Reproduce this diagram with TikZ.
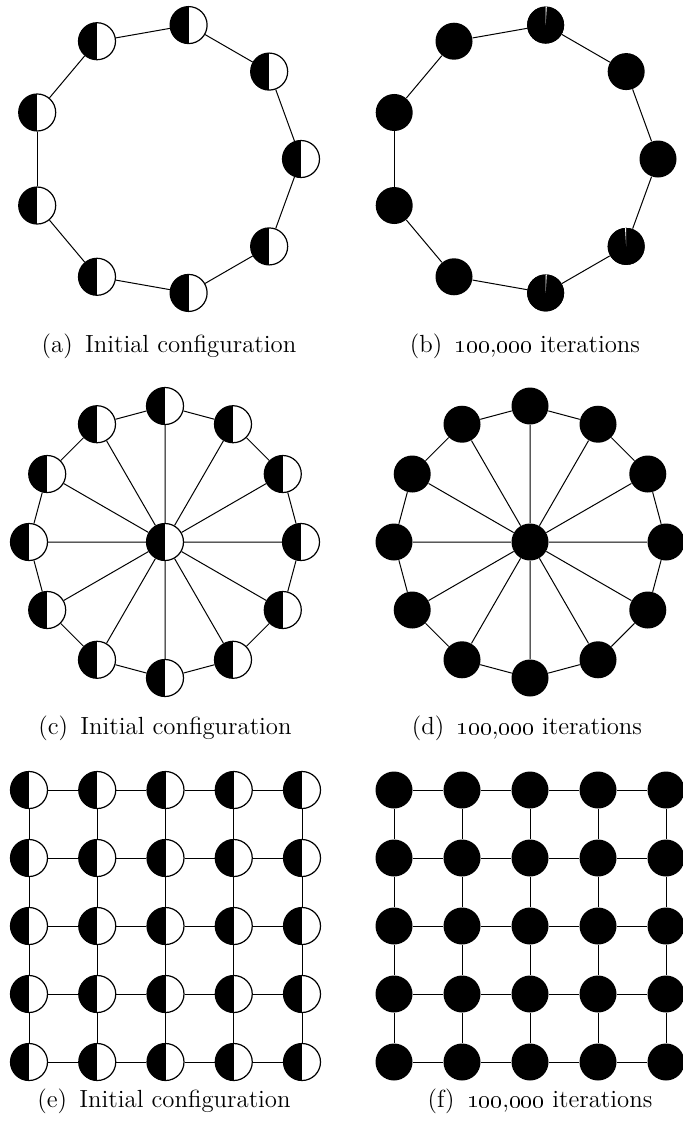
\documentclass[tikz,border=0pt]{standalone}
\begin{document}
\begin{tikzpicture}[x=0.5pt,y=-0.5pt,
        halfnode/.style={shape=circle,draw,line width=0.6pt,minimum size=18.5pt,inner sep=0pt,
            path picture={\fill (path picture bounding box.north west) rectangle (path picture bounding box.south);}},
        fullnode/.style={shape=circle,fill,minimum size=18.5pt,inner sep=0pt},
        sliver/.style={path picture={\fill[white] (path picture bounding box.center) -- (path picture bounding box.north) -- ++(#1,0) -- cycle;}},
        link/.style={line width=0.5pt},
        capt/.style={anchor=base,font=\fontsize{12.4}{15}\selectfont}
    ]
    \useasboundingbox (0,0) rectangle (683,1130);
    % (a) and (b): ring of nine
    \foreach \i in {0,...,8} {
        \node [halfnode] (a\i) at ({165+136*cos(40*\i)},{159-136*sin(40*\i)}) {};
        \node [fullnode] (b\i) at ({522+136*cos(40*\i)},{159-136*sin(40*\i)}) {};
    }
    \node [fullnode,sliver=1.2] at (b2) {};
    \node [fullnode,sliver=1.2] at (b7) {};
    \node [fullnode,sliver=-1.2] at (b8) {};
    \foreach \i in {0,...,8} {
        \pgfmathtruncatemacro\j{mod(\i+1,9)}
        \draw [link] (a\i) -- (a\j);
        \draw [link] (b\i) -- (b\j);
    }
    \node [capt] (capa) at (169,352) {(a)\enspace Initial configuration};
    \node [capt] (capb) at (525,352) {(b)\enspace \oldstylenums{100},\oldstylenums{000} iterations};
    % (c) and (d): wheel of twelve
    \node [halfnode] (c0) at (165,542) {};
    \node [fullnode] (d0) at (530,542) {};
    \foreach \i in {1,...,12} {
        \node [halfnode] (c\i) at ({165+136*cos(30*\i)},{542-136*sin(30*\i)}) {};
        \node [fullnode] (d\i) at ({530+136*cos(30*\i)},{542-136*sin(30*\i)}) {};
    }
    \foreach \i in {1,...,12} {
        \pgfmathtruncatemacro\j{mod(\i,12)+1}
        \draw [link] (c\i) -- (c\j) (c0) -- (c\i);
        \draw [link] (d\i) -- (d\j) (d0) -- (d\i);
    }
    \node [capt] (capc) at (165,734) {(c)\enspace Initial configuration};
    \node [capt] (capd) at (527,734) {(d)\enspace \oldstylenums{100},\oldstylenums{000} iterations};
    % (e) and (f): 5x5 grid
    \foreach \r in {0,...,4}
        \foreach \c in {0,...,4} {
            \node [halfnode] (e-\r-\c) at ({29+68.25*\c},{790+68*\r}) {};
            \node [fullnode] (f-\r-\c) at ({394+68*\c},{790+68*\r}) {};
        }
    \foreach \r in {0,...,4}
        \foreach \c [count=\n] in {0,...,3} {
            \draw [link] (e-\r-\c) -- (e-\r-\n) (e-\c-\r) -- (e-\n-\r);
            \draw [link] (f-\r-\c) -- (f-\r-\n) (f-\c-\r) -- (f-\n-\r);
        }
    \node [capt] (cape) at (164,1107) {(e)\enspace Initial configuration};
    \node [capt] (capf) at (540,1107) {(f)\enspace \oldstylenums{100},\oldstylenums{000} iterations};
\end{tikzpicture}
\end{document}
